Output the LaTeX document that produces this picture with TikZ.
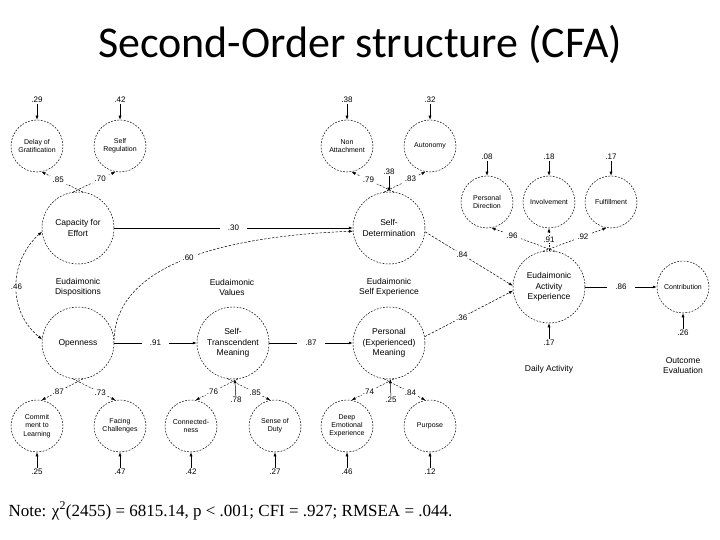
\documentclass[tikz,border=0pt]{standalone}
\usepackage{fontspec}
\setmainfont{Liberation Sans}
\newfontfamily\titlefont{Carlito}
\newfontfamily\notefont{Liberation Serif}
\usetikzlibrary{arrows.meta}
\begin{document}
\begin{tikzpicture}[x=1pt,y=-1pt,
 big/.style={circle,draw,line width=0.5pt,dash pattern=on 1.8pt off 1.4pt,minimum size=72pt,inner sep=0pt,align=center,font=\fontsize{8.5}{10.5}\selectfont},
 small/.style={circle,draw,line width=0.5pt,dash pattern=on 1.8pt off 1.4pt,minimum size=52pt,inner sep=0pt,align=center,font=\fontsize{7}{8.3}\selectfont},
 num/.style={font=\fontsize{8}{9}\selectfont,inner sep=1pt},
 numw/.style={num,fill=white,inner xsep=3pt},
 grp/.style={align=center,font=\fontsize{8.5}{10}\selectfont},
 err/.style={-{Latex[length=4pt,width=3pt]},line width=0.5pt},
 load/.style={-{Latex[length=4pt,width=3pt]},line width=0.5pt,dash pattern=on 2pt off 1.5pt},
 spath/.style={-{Latex[length=4pt,width=3pt]},line width=0.6pt},
 dpath/.style={-{Latex[length=4pt,width=3pt]},line width=0.5pt,dash pattern=on 2.5pt off 1.5pt},
 dbl/.style={{Latex[length=4pt,width=3pt]}-{Latex[length=4pt,width=3pt]},line width=0.5pt,dash pattern=on 2.5pt off 1.5pt},
]
\fill[white] (0,0) rectangle (720,540);
\useasboundingbox (0,0) rectangle (720,540);

\node[font=\titlefont\fontsize{44}{52}\selectfont] (title) at (360,44) {Second-Order structure (CFA)};

% indicator circles
\node[small] (dg) at (37,146) {Delay of\\Gratification};
\node[small] (sr) at (120,146) {Self\\Regulation};
\node[small] (na) at (347,146) {Non\\Attachment};
\node[small] (au) at (430,146) {Autonomy};
\node[small] (pd) at (487,202) {Personal\\Direction};
\node[small] (iv) at (549,202) {Involvement};
\node[small] (fu) at (611,202) {Fulfillment};
\node[small] (ct) at (683,287) {Contribution};
\node[small] (cl) at (37,426) {Commit\\ment to\\Learning};
\node[small] (fc) at (120,426) {Facing\\Challenges};
\node[small] (cn) at (191,426) {Connected-\\ness};
\node[small] (du) at (275,426) {Sense of\\Duty};
\node[small] (de) at (347,426) {Deep\\Emotional\\Experience};
\node[small] (pu) at (430,426) {Purpose};

% latent circles
\node[big] (ce) at (78,228) {Capacity for\\Effort};
\node[big] (sd) at (389,228) {Self-\\Determination};
\node[big] (ea) at (549,287) {Eudaimonic\\Activity\\Experience};
\node[big] (op) at (78,343) {Openness};
\node[big] (st) at (233,343) {Self-\\Transcendent\\Meaning};
\node[big] (pm) at (389,343) {Personal\\(Experienced)\\Meaning};

% group labels
\node[grp] (g1) at (78,287) {Eudaimonic\\Dispositions};
\node[grp] (g2) at (232,287) {Eudaimonic\\Values};
\node[grp] (g3) at (389,287) {Eudaimonic\\Self Experience};
\node[grp] (g4) at (549,369) {Daily Activity};
\node[grp] (g5) at (683,366) {Outcome\\Evaluation};

% error terms
\node[num] (e1) at (37,100) {.29};
\node[num] (e2) at (120,100) {.42};
\node[num] (e3) at (347,100) {.38};
\node[num] (e4) at (430,100) {.32};
\node[num] (e5) at (487,157) {.08};
\node[num] (e6) at (549,157) {.18};
\node[num] (e7) at (611,157) {.17};
\node[num] (e8) at (37,472) {.25};
\node[num] (e9) at (120,472) {.47};
\node[num] (e10) at (191,472) {.42};
\node[num] (e11) at (275,472) {.27};
\node[num] (e12) at (347,472) {.46};
\node[num] (e13) at (430,472) {.12};
\node[num] (d1) at (389,172) {.38};
\node[num] (d2) at (236,400) {.78};
\node[num] (d3) at (391,400) {.25};
\node[num] (d4) at (549,343) {.17};
\node[num] (d5) at (683,333) {.26};

\draw[err] (e1) -- (dg);
\draw[err] (e2) -- (sr);
\draw[err] (e3) -- (na);
\draw[err] (e4) -- (au);
\draw[err] (e5) -- (pd);
\draw[err] (e6) -- (iv);
\draw[err] (e7) -- (fu);
\draw[err] (e8) -- (cl);
\draw[err] (e9) -- (fc);
\draw[err] (e10) -- (cn);
\draw[err] (e11) -- (du);
\draw[err] (e12) -- (de);
\draw[err] (e13) -- (pu);
\draw[err] (d1) -- (sd);
\draw[err] (d2) -- (st);
\draw[err] (d3) -- (pm);
\draw[err] (d4) -- (ea);
\draw[err] (d5) -- (ct);

% loadings
\draw[load] (ce.82) -- node[numw,pos=0.6] {.85} (dg.-80);
\draw[load] (ce.98) -- node[numw,pos=0.64] {.70} (sr.-100);
\draw[load] (sd.82) -- node[numw,pos=0.6] {.79} (na.-80);
\draw[load] (sd.98) -- node[numw,pos=0.64] {.83} (au.-100);
\draw[load] (ea.80) -- node[numw,pos=0.68] {.96} (pd.-80);
\draw[load] (ea.90) -- node[numw,pos=0.5] {.91} (iv.-90);
\draw[load] (ea.100) -- node[numw,pos=0.63] {.92} (fu.-100);
\draw[load] (op.-82) -- node[numw,pos=0.6] {.87} (cl.80);
\draw[load] (op.-98) -- node[numw,pos=0.64] {.73} (fc.100);
\draw[load] (st.-82) -- node[numw,pos=0.6] {.76} (cn.80);
\draw[load] (st.-98) -- node[numw,pos=0.64] {.85} (du.100);
\draw[load] (pm.-82) -- node[numw,pos=0.6] {.74} (de.80);
\draw[load] (pm.-98) -- node[numw,pos=0.64] {.84} (pu.100);

% structural paths
\draw[spath] (ce) -- node[numw,inner xsep=8pt] {.30} (sd);
\draw[spath] (op) -- node[numw,inner xsep=8pt] {.91} (st);
\draw[spath] (st) -- node[numw,inner xsep=8pt] {.87} (pm);
\draw[spath] (ea) -- node[numw,inner xsep=8pt] {.86} (ct);
\draw[dpath] (sd.-6) -- node[numw,pos=0.42] {.84} (ea.178);
\draw[dpath] (pm.10) -- node[numw,pos=0.42] {.36} (ea.186);
\draw[dpath] (op.5) .. controls (116,262) and (230,236) .. node[numw,pos=0.5] {.60} (sd.185);
\draw[dbl] (ce.186) .. controls (8,262) and (8,312) .. node[numw] {.46} (op.174);

% note
\node[anchor=west,font=\notefont\fontsize{17}{20}\selectfont] (note) at (5,511) {Note: χ\textsuperscript{2}(2455) = 6815.14, p < .001; CFI = .927; RMSEA = .044.};
\end{tikzpicture}
\end{document}
